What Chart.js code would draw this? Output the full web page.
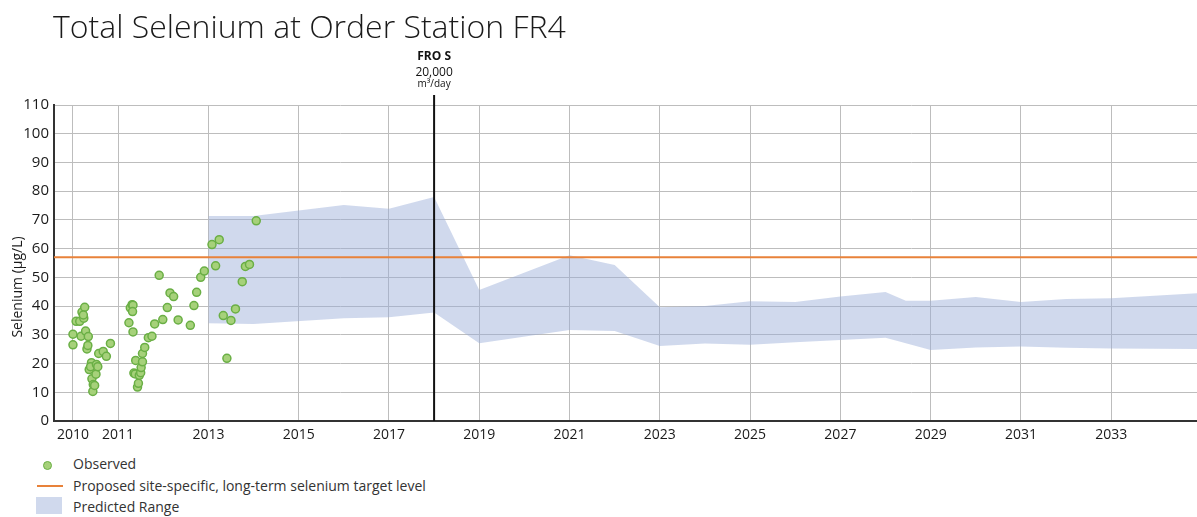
<!DOCTYPE html>
<html>
<head>
<meta charset="utf-8">
<script src="https://cdn.jsdelivr.net/npm/chart.js@4"></script>
<style>
    body { margin: 0; background: #fff; font-family: 'Open Sans', sans-serif; }
    #wrap { position: relative; width: 1197px; height: 517px; }
    #chart { position: absolute; left: 0; top: 0; }
    .legend { position: absolute; left: 0; top: 452px; font-size: 14px; color: #333; }
    .legend div { position: absolute; white-space: nowrap; }
</style>
</head>
<body>
<div id="wrap">
    <canvas id="chart" width="1197" height="450"></canvas>
    <div class="legend">
        <div style="left:43px; top:9px; width:7px; height:7px; border-radius:50%; background:#a6d17a; border:1.5px solid #6aaf45;"></div>
        <div style="left:73px; top:2px;">Observed</div>
        <div style="left:37px; top:33px; width:26px; height:2px; background:#e8823a;"></div>
        <div style="left:73px; top:24px;">Proposed site-specific, long-term selenium target level</div>
        <div style="left:36px; top:45px; width:26px; height:17px; background:#d0d9ed;"></div>
        <div style="left:73px; top:45px;">Predicted Range</div>
    </div>
</div>
<script>
// Observed samples (decimal year, µg/L)
const observedYears = [
    2010.00, 2010.00, 2010.07, 2010.15, 2010.20, 2010.18, 2010.26, 2010.24, 2010.23, 2010.28,
    2010.34, 2010.31, 2010.33, 2010.41, 2010.36, 2010.39, 2010.42, 2010.45, 2010.44, 2010.48,
    2010.52, 2010.51, 2010.55, 2010.57, 2010.67, 2010.74, 2010.83,
    2011.24, 2011.27, 2011.31, 2011.33, 2011.32, 2011.33, 2011.35, 2011.38, 2011.39, 2011.43,
    2011.45, 2011.47, 2011.50, 2011.51, 2011.54, 2011.54, 2011.59, 2011.67, 2011.75, 2011.81,
    2011.91, 2011.99, 2012.09, 2012.15, 2012.23, 2012.33, 2012.60, 2012.68, 2012.74, 2012.83,
    2012.91, 2013.08, 2013.16, 2013.24, 2013.33, 2013.41, 2013.50, 2013.60, 2013.75, 2013.82,
    2013.91, 2014.06
];
const observedValues = [
    30.2, 26.5, 34.7, 34.7, 37.9, 29.5, 39.6, 35.8, 36.9, 31.3,
    29.4, 25.1, 26.3, 20.3, 17.9, 18.9, 14.7, 12.7, 10.3, 12.4,
    19.7, 16.3, 18.9, 23.5, 24.2, 22.5, 27.0,
    34.2, 39.4, 40.5, 40.3, 38.1, 31.0, 16.7, 16.4, 21.1, 11.8,
    13.1, 15.9, 16.8, 18.6, 20.6, 23.5, 25.6, 29.0, 29.5, 33.8,
    50.7, 35.3, 39.5, 44.6, 43.3, 35.2, 33.3, 40.2, 44.8, 50.0,
    52.2, 61.4, 54.0, 63.1, 36.7, 21.8, 35.0, 39.0, 48.5, 53.8,
    54.5, 69.7
];

// Predicted range
const bandYears = [2013, 2014, 2016, 2017, 2018, 2019, 2021, 2022, 2023, 2024, 2025, 2026, 2027, 2028, 2028.45, 2029, 2030, 2031, 2032, 2033, 2035];
const bandUpper = [71.4, 71.4, 75.2, 73.9, 78.0, 45.6, 57.7, 54.3, 39.6, 40.0, 41.7, 41.4, 43.3, 44.9, 41.9, 41.9, 43.2, 41.4, 42.5, 42.7, 44.6];
const bandLower = [34.0, 33.8, 35.8, 36.1, 37.8, 27.1, 31.7, 31.3, 26.1, 27.0, 26.5, 27.4, 28.2, 29.0, 27.1, 24.7, 25.6, 25.9, 25.5, 25.2, 25.1];

const targetLevel = 57;
const froYear = 2018;
const xTickYears = [2010, 2011, 2013, 2015, 2017, 2019, 2021, 2023, 2025, 2027, 2029, 2031, 2033];
const xMin = 2009.58, xMax = 2034.9;

const toPoints = (xs, ys) => xs.map((x, i) => ({ x: x, y: ys[i] }));

// Title, axis title and FRO S marker drawn on the canvas
const annotations = {
    id: 'annotations',
    afterDatasetsDraw(chart) {
        const ctx = chart.ctx;
        const x = chart.scales.x.getPixelForValue(froYear);
        const bottom = chart.chartArea.bottom;
        ctx.save();
        ctx.strokeStyle = '#111';
        ctx.lineWidth = 2;
        ctx.beginPath();
        ctx.moveTo(x, 95);
        ctx.lineTo(x, bottom);
        ctx.stroke();
        ctx.restore();
    },
    afterDraw(chart) {
        const ctx = chart.ctx;
        const x = chart.scales.x.getPixelForValue(froYear);
        ctx.save();
        ctx.fillStyle = '#111';
        ctx.textAlign = 'center';
        ctx.textBaseline = 'middle';
        ctx.font = "bold 12px 'Open Sans'";
        ctx.fillText('FRO S', x, 57);
        ctx.font = "12px 'Open Sans'";
        ctx.fillText('20,000', x, 73);
        ctx.font = "10px 'Open Sans'";
        ctx.fillText('m³/day', x, 84);

        // y axis title
        ctx.save();
        ctx.translate(18, 287);
        ctx.rotate(-Math.PI / 2);
        ctx.fillStyle = '#1a1a1a';
        ctx.font = "14px 'Open Sans'";
        ctx.fillText('Selenium (µg/L)', 0, 0);
        ctx.restore();

        ctx.textAlign = 'left';
        ctx.textBaseline = 'alphabetic';
        ctx.fillStyle = '#1a1a1a';
        ctx.font = "300 32px 'Open Sans'";
        ctx.fillText('Total Selenium at Order Station FR4', 53, 38);
        ctx.restore();
    }
};

new Chart(document.getElementById('chart'), {
    type: 'scatter',
    data: {
        datasets: [
            {
                label: 'Observed',
                data: toPoints(observedYears, observedValues),
                backgroundColor: '#a6d17a',
                borderColor: '#6aaf45',
                borderWidth: 1.5,
                pointRadius: 4,
                order: 0
            },
            {
                label: 'Target',
                data: [{ x: xMin, y: targetLevel }, { x: xMax, y: targetLevel }],
                showLine: true,
                borderColor: '#e8823a',
                borderWidth: 2,
                pointRadius: 0,
                order: 1
            },
            {
                label: 'Lower',
                data: toPoints(bandYears, bandLower),
                showLine: true,
                borderWidth: 0,
                borderColor: 'rgba(0,0,0,0)',
                pointRadius: 0,
                order: 3
            },
            {
                label: 'Predicted Range',
                data: toPoints(bandYears, bandUpper),
                showLine: true,
                borderWidth: 0,
                borderColor: 'rgba(0,0,0,0)',
                backgroundColor: 'rgba(150,170,215,0.45)',
                fill: '-1',
                pointRadius: 0,
                order: 2
            }
        ]
    },
    options: {
        responsive: false,
        animation: false,
        layout: { autoPadding: false, padding: { top: 105, right: 0, left: 0, bottom: 0 } },
        plugins: {
            legend: { display: false },
            tooltip: { enabled: false }
        },
        scales: {
            x: {
                type: 'linear',
                min: xMin,
                max: xMax,
                afterBuildTicks: (scale) => { scale.ticks = xTickYears.map(v => ({ value: v })); },
                afterFit: (scale) => {
                    scale.height = 29;
                    scale.paddingLeft = 0;
                    scale.paddingRight = 0;
                },
                grid: { color: '#bdbdbd', lineWidth: 1, drawTicks: false },
                border: { display: true, color: '#333', width: 2 },
                ticks: {
                    padding: 6,
                    color: '#1a1a1a',
                    font: { family: 'Open Sans', size: 14 },
                    callback: (v) => String(v),
                    maxRotation: 0
                }
            },
            y: {
                min: 0,
                max: 110,
                afterFit: (scale) => {
                    scale.width = 54;
                    scale.paddingTop = 0;
                    scale.paddingBottom = 0;
                },
                grid: { color: '#bdbdbd', lineWidth: 1, drawTicks: false },
                border: { display: true, color: '#333', width: 2 },
                ticks: {
                    stepSize: 10,
                    padding: 5,
                    color: '#1a1a1a',
                    font: { family: 'Open Sans', size: 15 }
                }
            }
        }
    },
    plugins: [annotations]
});
</script>
</body>
</html>
